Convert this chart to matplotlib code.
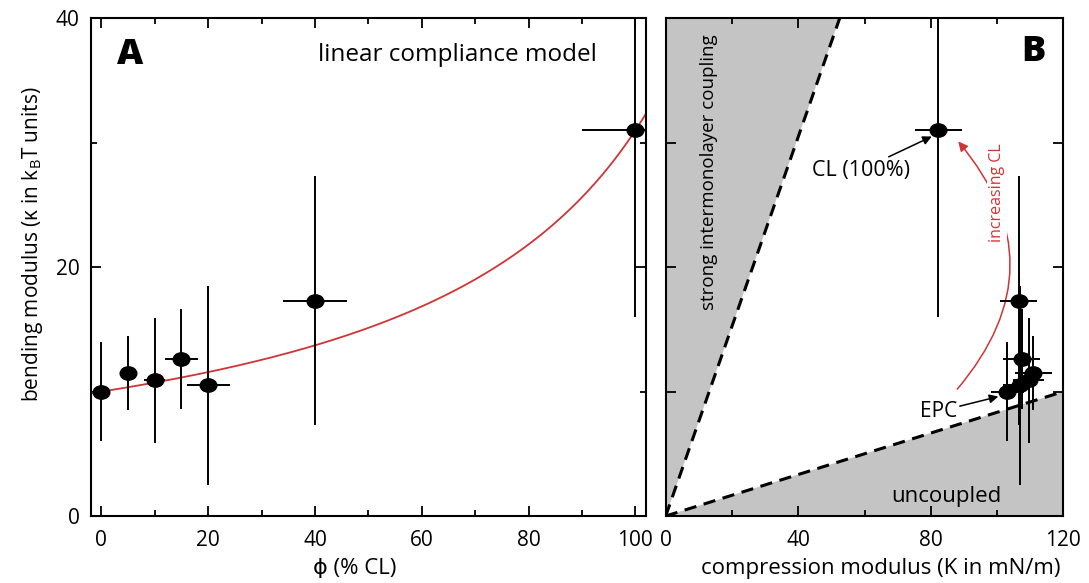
import numpy as np
import matplotlib
matplotlib.use("Agg")
import matplotlib.pyplot as plt
from matplotlib.path import Path
from matplotlib.ticker import MultipleLocator

plt.rcParams['font.family'] = ['Open Sans', 'DejaVu Sans']
plt.rcParams['mathtext.fontset'] = 'custom'
plt.rcParams['mathtext.rm'] = 'Open Sans'
plt.rcParams['mathtext.it'] = 'Open Sans:italic'

# --- data ---
phi = [0, 5, 10, 15, 20, 40, 100]              # % CL
kappa = [10.0, 11.5, 10.9, 12.6, 10.5, 17.3, 31.0]  # kBT
kappa_err = [4, 3, 5, 4, 8, 10, 15]
phi_err = [0, 0, 2, 3, 4, 6, 10]

K = [103.1, 111.0, 109.5, 107.5, 106.8, 106.5, 82.3]  # mN/m
K_err = [5, 5.7, 4.8, 5.6, 5, 5.6, 7.2]

# linear compliance model parameters (end members)
kappa_epc = 10.0
kappa_cl = 31.0

# coupling boundary slopes (kappa / K)
strong_slope = 40 / 52.5
uncoupled_slope = 10 / 120

red = '#d03434'
gray = '#c4c4c4'

# slightly wide elliptical marker, as in the original
circ = Path.unit_circle()
ell = Path(circ.vertices * [1.25, 1.0], circ.codes)

fig = plt.figure(figsize=(10.89, 5.83), dpi=100)
axA = fig.add_axes([0.0833, 0.1149, 0.51, 0.8537])
axB = fig.add_axes([0.6113, 0.1149, 0.3651, 0.8537])


def style(ax):
    ax.tick_params(which='both', direction='in', top=True, right=True,
                   width=1.3, labelsize=15, pad=8)
    ax.tick_params(axis='x', which='both', pad=10)
    ax.tick_params(which='major', length=7.5)
    ax.tick_params(which='minor', length=4)
    for s in ax.spines.values():
        s.set_linewidth(1.5)


# ---------------- panel A ----------------
f = np.linspace(-0.02, 1.02, 300)
model = 1.0 / ((1 - f) / kappa_epc + f / kappa_cl)
axA.plot(f * 100, model, color=red, lw=1.3, zorder=2)
axA.errorbar(phi, kappa, yerr=kappa_err, xerr=phi_err, fmt='none',
             ecolor='k', elinewidth=1.4, capsize=0, zorder=3)
axA.plot(phi, kappa, ls='none', marker=ell, ms=12, color='k', zorder=4)

axA.set_xlim(-2, 102)
axA.set_ylim(0, 40)
axA.xaxis.set_major_locator(MultipleLocator(20))
axA.xaxis.set_minor_locator(MultipleLocator(10))
axA.yaxis.set_major_locator(MultipleLocator(20))
axA.yaxis.set_minor_locator(MultipleLocator(10))
style(axA)
axA.set_xlabel('ϕ (% CL)', fontsize=16, labelpad=5, x=0.475)
axA.set_ylabel(r'bending modulus (κ in k$_\mathregular{B}$T units)', fontsize=15,
               labelpad=8, y=0.547)
axA.text(5.3, 37.05, 'A', fontsize=26, fontweight='heavy', ha='center', va='center')
axA.text(66.7, 37.05, 'linear compliance model', fontsize=17.5, ha='center', va='center')

# ---------------- panel B ----------------
axB.fill([0, 40 / strong_slope, 0], [0, 40, 40], color=gray, lw=0, zorder=0)
axB.fill([0, 120, 120], [0, 120 * uncoupled_slope, 0], color=gray, lw=0, zorder=0)
kk = np.array([0, 120])
axB.plot(kk, strong_slope * kk, ls=(0, (4, 2.5)), color='k', lw=2.2, zorder=1)
axB.plot(kk, uncoupled_slope * kk, ls=(0, (4, 2.5)), color='k', lw=2.2, zorder=1)

axB.errorbar(K, kappa, yerr=kappa_err, xerr=K_err, fmt='none',
             ecolor='k', elinewidth=1.4, capsize=0, zorder=3)
axB.plot(K, kappa, ls='none', marker=ell, ms=12, color='k', zorder=4)

axB.set_xlim(0, 120)
axB.set_ylim(0, 40)
axB.xaxis.set_major_locator(MultipleLocator(40))
axB.xaxis.set_minor_locator(MultipleLocator(20))
axB.yaxis.set_major_locator(MultipleLocator(10))
style(axB)
axB.tick_params(axis='y', labelleft=False)
axB.set_xlabel('compression modulus (K in mN/m)', fontsize=16, labelpad=5, x=0.54)

axB.text(110.9, 37.3, 'B', fontsize=26, fontweight='heavy', ha='center', va='center')
axB.text(13.0, 27.6, 'strong intermonolayer coupling', fontsize=13.5,
         rotation=90, ha='center', va='center')
axB.text(84.8, 1.55, 'uncoupled', fontsize=16, ha='center', va='center')

axB.annotate('CL (100%)', xy=(80.3, 30.5), xytext=(58.8, 27.8), fontsize=15.5,
             ha='center', va='center',
             arrowprops=dict(arrowstyle='-|>', color='k', lw=1.1,
                             mutation_scale=13, shrinkA=0, shrinkB=0))
axB.annotate('EPC', xy=(100.4, 9.6), xytext=(82.3, 8.4), fontsize=15,
             ha='center', va='center',
             arrowprops=dict(arrowstyle='-|>', color='k', lw=1.1,
                             mutation_scale=13, shrinkA=0, shrinkB=0))

axB.annotate('', xy=(88.3, 30.1), xytext=(88.0, 10.2),
             arrowprops=dict(arrowstyle='-|>', color=red, lw=1.1,
                             mutation_scale=14, shrinkA=0, shrinkB=0,
                             connectionstyle='arc3,rad=0.42'), zorder=2)
axB.text(99.9, 26.0, 'increasing CL', color=red, fontsize=11.5, rotation=90,
         ha='center', va='center', zorder=2.5,
         bbox=dict(facecolor='white', edgecolor='none', pad=1.5))

fig.savefig('out.png', dpi=100)
